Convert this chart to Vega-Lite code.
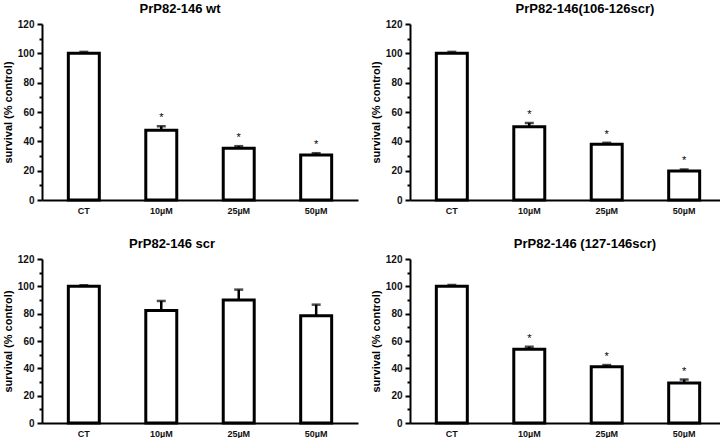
{
  "$schema": "https://vega.github.io/schema/vega-lite/v6.json",
  "padding": {"top": 3, "left": 2, "right": 0, "bottom": 0},
  "background": "white",
  "spacing": 23,
  "config": {
    "view": {"stroke": null},
    "font": "Liberation Sans",
    "title": {"fontSize": 13, "fontWeight": "bold", "offset": 3, "anchor": "middle", "color": "black"},
    "axisX": {"title": null, "ticks": false, "labelAngle": 0, "labelFontWeight": "bold", "labelFontSize": 9, "labelPadding": 6, "domainWidth": 2, "domainColor": "black", "labelColor": "#111"},
    "axisY": {"grid": false, "domainWidth": 2, "domainColor": "black", "tickWidth": 2, "tickColor": "black", "labelFontWeight": "bold", "labelFontSize": 10, "labelColor": "#111", "labelPadding": 3, "labelOverlap": false, "titleFontWeight": "bold", "titleFontSize": 11, "titlePadding": 4, "titleColor": "black", "tickCount": 12}
  },
  "data": {"values": [
    {"panel": "wt", "dose": "CT", "mean": 100, "hi": 101, "star": ""},
    {"panel": "wt", "dose": "10µM", "mean": 47.5, "hi": 50.3, "star": "*"},
    {"panel": "wt", "dose": "25µM", "mean": 35.3, "hi": 36.7, "star": "*"},
    {"panel": "wt", "dose": "50µM", "mean": 30.7, "hi": 31.9, "star": "*"},
    {"panel": "s106", "dose": "CT", "mean": 100, "hi": 101, "star": ""},
    {"panel": "s106", "dose": "10µM", "mean": 50, "hi": 52.5, "star": "*"},
    {"panel": "s106", "dose": "25µM", "mean": 38, "hi": 39, "star": "*"},
    {"panel": "s106", "dose": "50µM", "mean": 19.8, "hi": 20.8, "star": "*"},
    {"panel": "scr", "dose": "CT", "mean": 100, "hi": 100.8, "star": ""},
    {"panel": "scr", "dose": "10µM", "mean": 82.3, "hi": 89.3, "star": ""},
    {"panel": "scr", "dose": "25µM", "mean": 90, "hi": 97.6, "star": ""},
    {"panel": "scr", "dose": "50µM", "mean": 78.4, "hi": 86.6, "star": ""},
    {"panel": "s127", "dose": "CT", "mean": 100, "hi": 101, "star": ""},
    {"panel": "s127", "dose": "10µM", "mean": 54, "hi": 55.8, "star": "*"},
    {"panel": "s127", "dose": "25µM", "mean": 41.2, "hi": 42.4, "star": "*"},
    {"panel": "s127", "dose": "50µM", "mean": 29.3, "hi": 31.8, "star": "*"}
  ]},
  "vconcat": [
    {"spacing": 12, "hconcat": [
      {
        "title": {"text": "PrP82-146 wt", "dx": -20}, "width": 316, "height": 176,
        "transform": [{"filter": "datum.panel === 'wt'"}],
        "encoding": {"x": {"field": "dose", "type": "nominal", "sort": ["CT", "10µM", "25µM", "50µM"], "scale": {"paddingInner": 0.6, "paddingOuter": 0.34}}},
        "layer": [
          {"mark": {"type": "bar", "fill": "white", "stroke": "black", "strokeWidth": 3}, "encoding": {"y": {"field": "mean", "type": "quantitative", "scale": {"domain": [0, 120]}, "axis": {"title": "survival (% control)", "labelExpr": "datum.value % 20 === 0 ? datum.label : ''", "tickSize": {"condition": {"test": "datum.value % 20 === 0", "value": 5}, "value": 3}}}}},
          {"mark": {"type": "rule", "strokeWidth": 2.5, "color": "black"}, "encoding": {"y": {"field": "mean", "type": "quantitative"}, "y2": {"field": "hi"}}},
          {"mark": {"type": "tick", "thickness": 2.5, "size": 9, "color": "black", "orient": "horizontal"}, "encoding": {"y": {"field": "hi", "type": "quantitative"}}},
          {"mark": {"type": "text", "dy": -8, "fontSize": 11, "color": "black"}, "encoding": {"y": {"field": "hi", "type": "quantitative"}, "text": {"field": "star"}}}
        ]
      },
      {
        "title": {"text": "PrP82-146(106-126scr)", "dx": 17}, "width": 316, "height": 176,
        "transform": [{"filter": "datum.panel === 's106'"}],
        "encoding": {"x": {"field": "dose", "type": "nominal", "sort": ["CT", "10µM", "25µM", "50µM"], "scale": {"paddingInner": 0.6, "paddingOuter": 0.34}}},
        "layer": [
          {"mark": {"type": "bar", "fill": "white", "stroke": "black", "strokeWidth": 3}, "encoding": {"y": {"field": "mean", "type": "quantitative", "scale": {"domain": [0, 120]}, "axis": {"title": "survival (% control)", "labelExpr": "datum.value % 20 === 0 ? datum.label : ''", "tickSize": {"condition": {"test": "datum.value % 20 === 0", "value": 5}, "value": 3}}}}},
          {"mark": {"type": "rule", "strokeWidth": 2.5, "color": "black"}, "encoding": {"y": {"field": "mean", "type": "quantitative"}, "y2": {"field": "hi"}}},
          {"mark": {"type": "tick", "thickness": 2.5, "size": 9, "color": "black", "orient": "horizontal"}, "encoding": {"y": {"field": "hi", "type": "quantitative"}}},
          {"mark": {"type": "text", "dy": -8, "fontSize": 11, "color": "black"}, "encoding": {"y": {"field": "hi", "type": "quantitative"}, "text": {"field": "star"}}}
        ]
      }
    ]},
    {"spacing": 12, "hconcat": [
      {
        "title": {"text": "PrP82-146 scr", "dx": -28}, "width": 316, "height": 164,
        "transform": [{"filter": "datum.panel === 'scr'"}],
        "encoding": {"x": {"field": "dose", "type": "nominal", "sort": ["CT", "10µM", "25µM", "50µM"], "scale": {"paddingInner": 0.6, "paddingOuter": 0.34}}},
        "layer": [
          {"mark": {"type": "bar", "fill": "white", "stroke": "black", "strokeWidth": 3}, "encoding": {"y": {"field": "mean", "type": "quantitative", "scale": {"domain": [0, 120]}, "axis": {"title": "survival (% control)", "labelExpr": "datum.value % 20 === 0 ? datum.label : ''", "tickSize": {"condition": {"test": "datum.value % 20 === 0", "value": 5}, "value": 3}}}}},
          {"mark": {"type": "rule", "strokeWidth": 2.5, "color": "black"}, "encoding": {"y": {"field": "mean", "type": "quantitative"}, "y2": {"field": "hi"}}},
          {"mark": {"type": "tick", "thickness": 2.5, "size": 9, "color": "black", "orient": "horizontal"}, "encoding": {"y": {"field": "hi", "type": "quantitative"}}},
          {"mark": {"type": "text", "dy": -8, "fontSize": 11, "color": "black"}, "encoding": {"y": {"field": "hi", "type": "quantitative"}, "text": {"field": "star"}}}
        ]
      },
      {
        "title": {"text": "PrP82-146 (127-146scr)", "dx": 17}, "width": 316, "height": 164,
        "transform": [{"filter": "datum.panel === 's127'"}],
        "encoding": {"x": {"field": "dose", "type": "nominal", "sort": ["CT", "10µM", "25µM", "50µM"], "scale": {"paddingInner": 0.6, "paddingOuter": 0.34}}},
        "layer": [
          {"mark": {"type": "bar", "fill": "white", "stroke": "black", "strokeWidth": 3}, "encoding": {"y": {"field": "mean", "type": "quantitative", "scale": {"domain": [0, 120]}, "axis": {"title": "survival (% control)", "labelExpr": "datum.value % 20 === 0 ? datum.label : ''", "tickSize": {"condition": {"test": "datum.value % 20 === 0", "value": 5}, "value": 3}}}}},
          {"mark": {"type": "rule", "strokeWidth": 2.5, "color": "black"}, "encoding": {"y": {"field": "mean", "type": "quantitative"}, "y2": {"field": "hi"}}},
          {"mark": {"type": "tick", "thickness": 2.5, "size": 9, "color": "black", "orient": "horizontal"}, "encoding": {"y": {"field": "hi", "type": "quantitative"}}},
          {"mark": {"type": "text", "dy": -8, "fontSize": 11, "color": "black"}, "encoding": {"y": {"field": "hi", "type": "quantitative"}, "text": {"field": "star"}}}
        ]
      }
    ]}
  ]
}
